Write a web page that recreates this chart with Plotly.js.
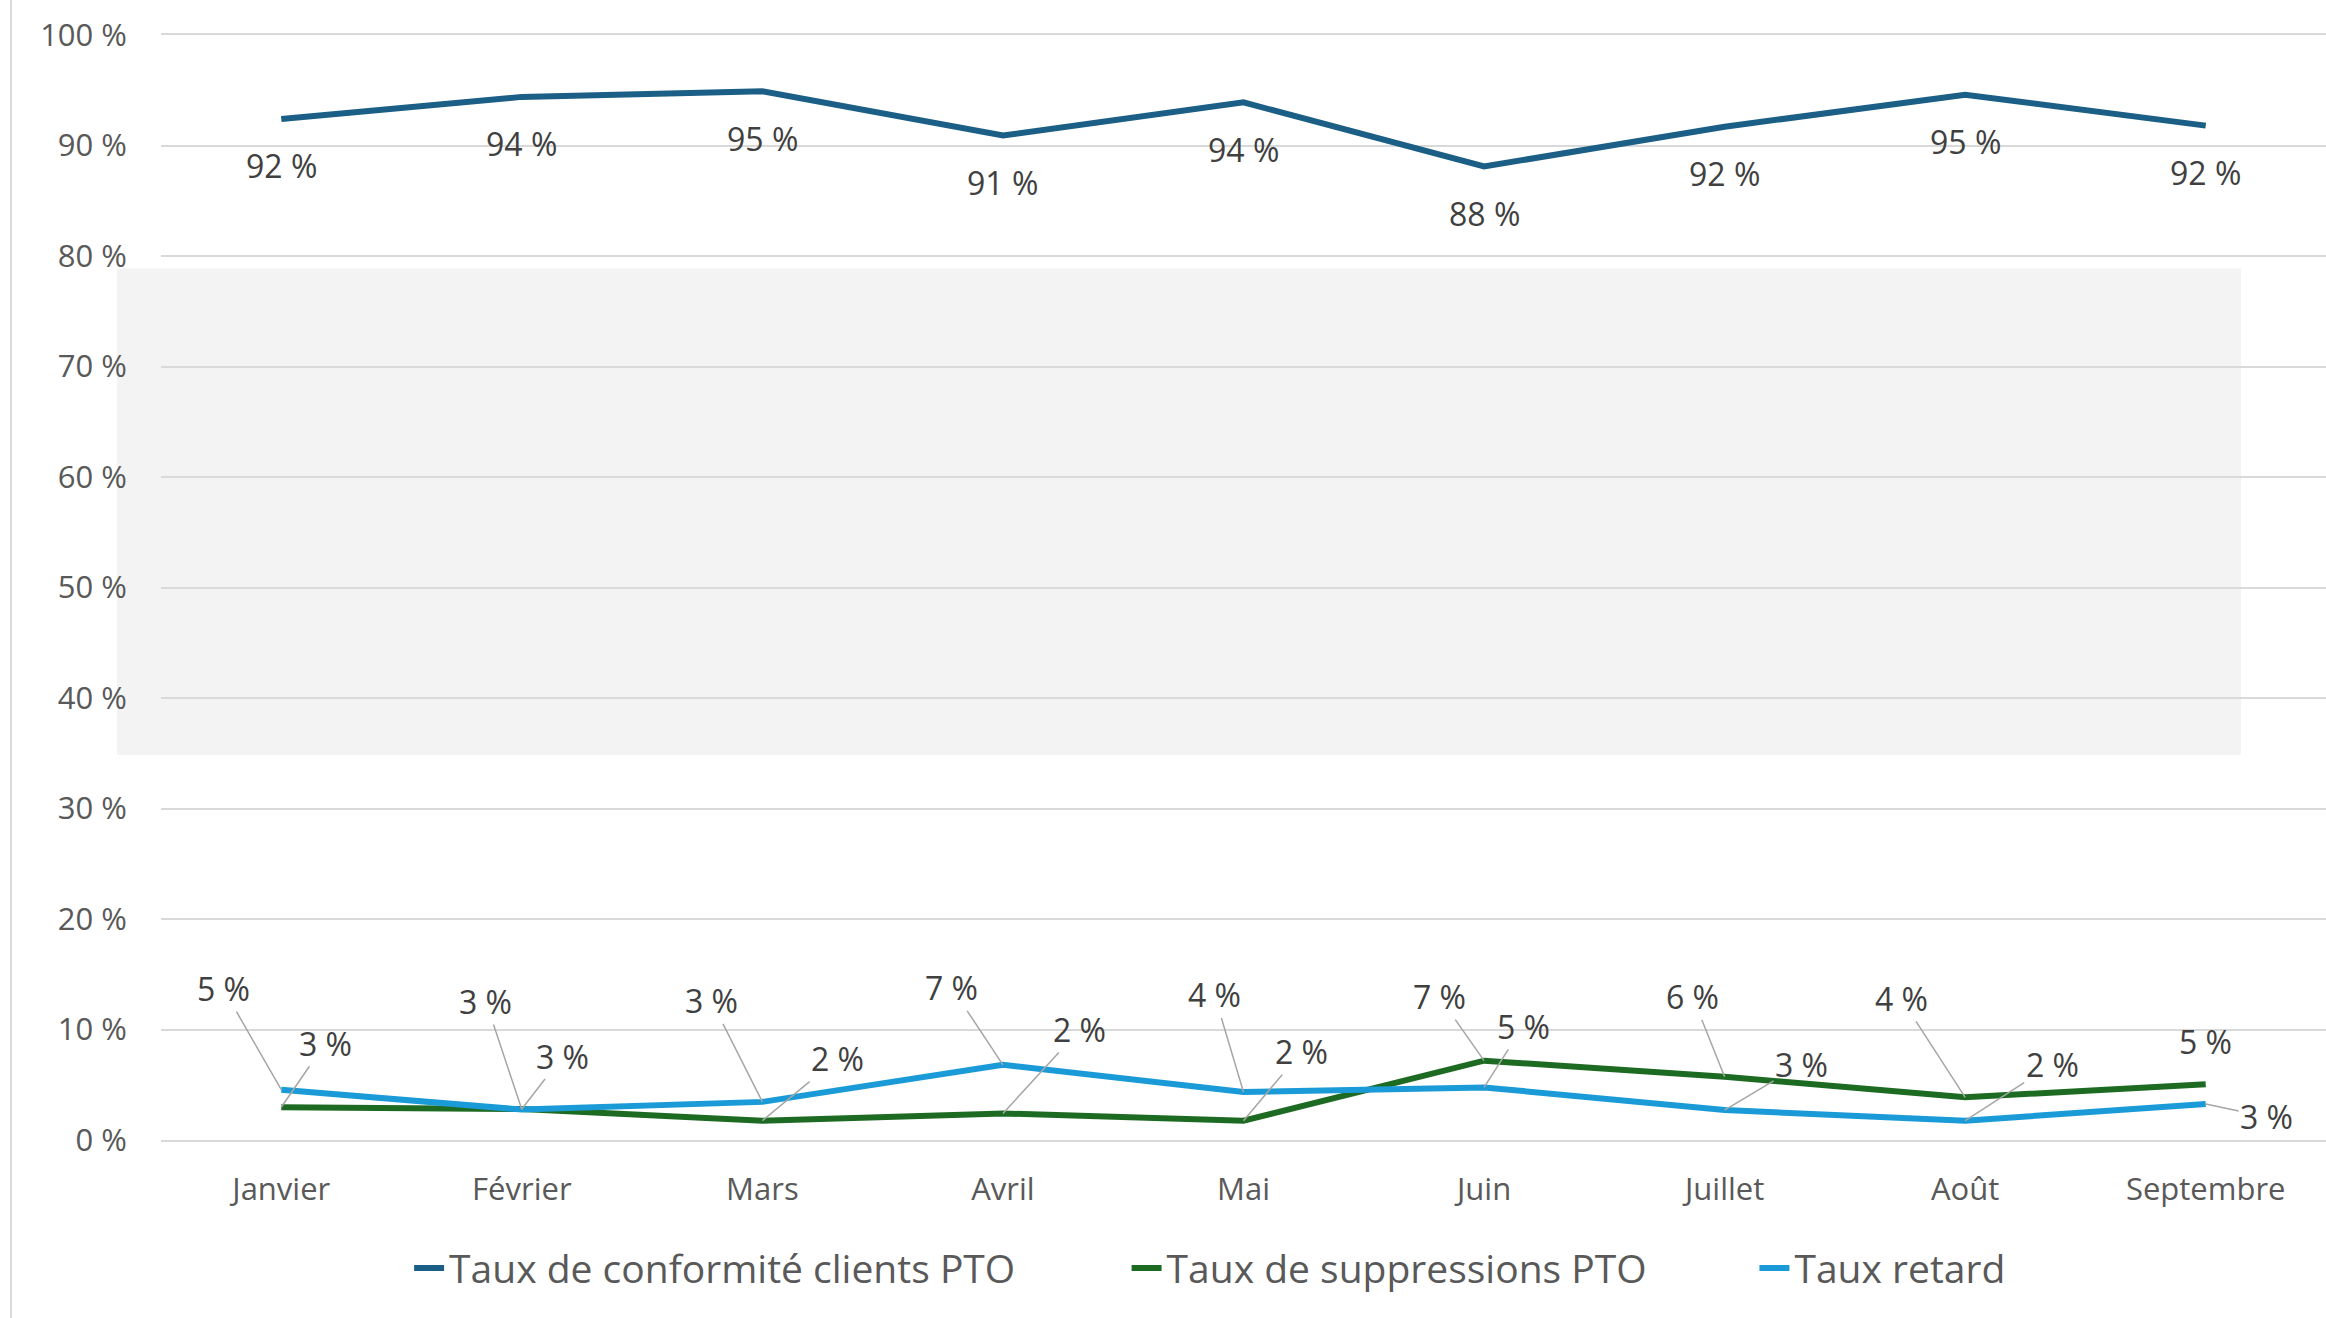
<!DOCTYPE html>
<html>
<head>
<meta charset="utf-8">
<script src="https://cdn.plot.ly/plotly-3.0.1.min.js"></script>
<style>html,body{margin:0;padding:0;background:#fff;}#chart{width:2326px;height:1318px;}</style>
</head>
<body>
<div id="chart"></div>
<script>
// ---- data ----
const months = ['Janvier', 'Février', 'Mars', 'Avril', 'Mai', 'Juin', 'Juillet', 'Août', 'Septembre'];
const seriesNames = ['Taux de conformité clients PTO', 'Taux de suppressions PTO', 'Taux retard'];
const conformite = [92.4, 94.4, 94.9, 90.9, 93.9, 88.1, 91.7, 94.6, 91.8];
const suppressions = [2.96, 2.8, 1.75, 2.4, 1.75, 7.18, 5.73, 3.86, 5.04];
const retard = [4.55, 2.75, 3.45, 6.8, 4.35, 4.76, 2.71, 1.75, 3.26];
const yTickVals = [0, 10, 20, 30, 40, 50, 60, 70, 80, 90, 100];
const yTickText = yTickVals.map(v => v + ' %');

// ---- label placement (pixels, layout only) ----
const retardLabelOffsets = [[-58,-101],[-36,-108],[-51,-101],[-51,-77],[-29,-97],[39,-61],[77,-46],[87,-56],[61,13]];
const suppLabelOffsets = [[44,-64],[41,-53],[75,-62],[77,-84],[58,-69],[-45,-64],[-32,-80],[-64,-99],[0,-43]];
const suppLabelArrow = [true,true,true,true,true,true,true,true,false];

const colors = ['#1b5e86', '#1d6b22', '#1a9bd7'];
const FONT = '"Open Sans", "Noto Sans", sans-serif';
const tickFont = {family: FONT, size: 31, color: '#595959'};
const labelFont = {family: FONT, size: 32, color: '#404040'};
const fmt = v => Math.round(v) + ' %';

const traces = [
  {x: months, y: conformite, name: seriesNames[0], legend: 'legend'},
  {x: months, y: suppressions, name: seriesNames[1], legend: 'legend2'},
  {x: months, y: retard, name: seriesNames[2], legend: 'legend3'}
].map((t, i) => Object.assign(t, {
  type: 'scatter', mode: 'lines',
  line: {color: colors[i], width: 6},
  hoverinfo: 'x+y+name'
}));

const annotations = [];
conformite.forEach((v, i) => annotations.push({
  x: months[i], y: v, text: fmt(v), showarrow: false, yshift: -47, font: labelFont
}));
retard.forEach((v, i) => annotations.push({
  x: months[i], y: v, text: fmt(v), showarrow: true, arrowhead: 0, arrowwidth: 1.5,
  arrowcolor: '#a6a6a6', ax: retardLabelOffsets[i][0], ay: retardLabelOffsets[i][1],
  standoff: 0, font: labelFont
}));
suppressions.forEach((v, i) => {
  if (suppLabelArrow[i]) {
    annotations.push({
      x: months[i], y: v, text: fmt(v), showarrow: true, arrowhead: 0, arrowwidth: 1.5,
      arrowcolor: '#a6a6a6', ax: suppLabelOffsets[i][0], ay: suppLabelOffsets[i][1],
      standoff: 0, font: labelFont
    });
  } else {
    annotations.push({
      x: months[i], y: v, text: fmt(v), showarrow: false,
      xshift: suppLabelOffsets[i][0], yshift: -suppLabelOffsets[i][1], font: labelFont
    });
  }
});

const legendBase = {
  orientation: 'h', yanchor: 'middle', xanchor: 'left', y: -0.116,
  bgcolor: 'rgba(0,0,0,0)', font: {family: FONT, size: 39, color: '#595959'}
};

const layout = {
  width: 2326, height: 1318,
  margin: {l: 161, r: 0, t: 35, b: 178},
  paper_bgcolor: '#ffffff',
  plot_bgcolor: 'rgba(0,0,0,0)',
  showlegend: true,
  legend: Object.assign({}, legendBase, {x: 0.1146}),
  legend2: Object.assign({}, legendBase, {x: 0.446}),
  legend3: Object.assign({}, legendBase, {x: 0.736}),
  xaxis: {
    type: 'category', range: [-0.5, 8.5], showgrid: false, zeroline: false,
    showline: true, linecolor: '#d9d9d9', linewidth: 2, mirror: true,
    ticks: '', tickfont: tickFont, ticklabelstandoff: 21, fixedrange: true
  },
  yaxis: {
    range: [0, 100], tickvals: yTickVals, ticktext: yTickText,
    showgrid: true, gridcolor: '#d9d9d9', gridwidth: 2, zeroline: false,
    showline: false, ticks: '', tickfont: tickFont, ticklabelstandoff: 33, fixedrange: true
  },
  shapes: [
    {type: 'rect', xref: 'paper', yref: 'paper', x0: -0.0203, x1: 0.9607, y0: 0.3484, y1: 0.7886,
     fillcolor: '#f3f3f3', line: {width: 0}, layer: 'below'},
    {type: 'line', xref: 'paper', yref: 'paper', x0: -0.0693, x1: -0.0693, y0: -0.165, y1: 1.035,
     line: {color: '#d9d9d9', width: 2}, layer: 'below'}
  ],
  annotations: annotations
};

Plotly.newPlot('chart', traces, layout, {displayModeBar: false, staticPlot: true});
</script>
</body>
</html>
